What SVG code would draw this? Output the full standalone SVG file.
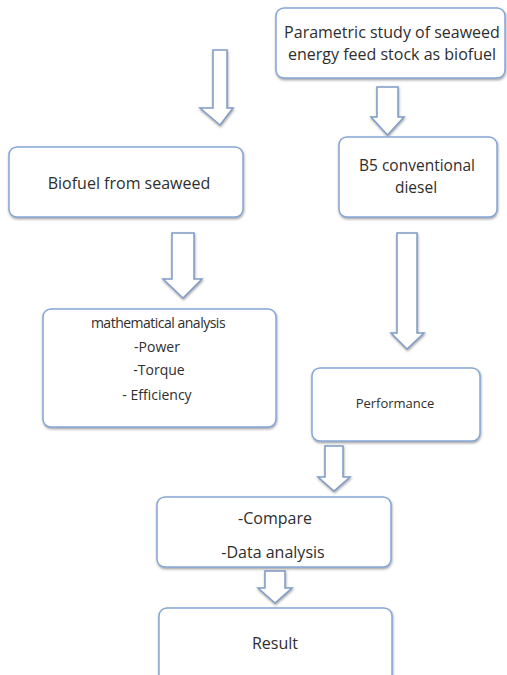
<svg xmlns="http://www.w3.org/2000/svg" width="507" height="675" viewBox="0 0 507 675">
<defs>
<filter id="sh" x="-10%" y="-10%" width="120%" height="130%">
<feDropShadow dx="0.5" dy="1.5" stdDeviation="1" flood-color="#555" flood-opacity="0.55"/>
</filter>
</defs>
<style>
.box{fill:#fff;stroke:#86a7d6;stroke-width:1.5;filter:url(#sh)}
.arr{fill:#fff;stroke:#7f9cc8;stroke-width:1.5;stroke-linejoin:miter;filter:url(#sh)}
text{font-family:"Open Sans","Liberation Sans",sans-serif;fill:#2e2e2e;text-anchor:middle}
.t16{font-size:16px}
.t15{font-size:15.5px}
.t14{font-size:14px}
.t13{font-size:13px}
</style>
<rect width="507" height="675" fill="#fff"/>
<g id="connectors">
<path class="arr" d="M213,50 H227 V108 H233 L220,125 L200,108 H213 Z"/>
<path class="arr" d="M377,87 H398 V117 H404 L387.5,135 L371,117 H377 Z"/>
<path class="arr" d="M172,233 H194 V279 H202 L183,298 L163,279 H172 Z"/>
<path class="arr" d="M397,233 H417 V333 H424 L407,349 L391,333 H397 Z"/>
<path class="arr" d="M325,446 H343 V477 H350 L334,491 L318,477 H325 Z"/>
<path class="arr" d="M265,571 H285 V588 H292 L275,603 L258,588 H265 Z"/>
</g>
<g id="n-parametric">
<rect class="box" x="276" y="8" width="229" height="70" rx="8"/>
<text class="t16" x="392" y="38">Parametric study of seaweed</text>
<text class="t16" x="392" y="60">energy feed stock as biofuel</text>
</g>
<g id="n-b5">
<rect class="box" x="339" y="137" width="158" height="80" rx="8"/>
<text class="t15" x="417" y="171">B5 conventional</text>
<text class="t15" x="416" y="193">diesel</text>
</g>
<g id="n-biofuel">
<rect class="box" x="9" y="147" width="234" height="70" rx="8"/>
<text class="t16" x="129" y="189">Biofuel from seaweed</text>
</g>
<g id="n-math">
<rect class="box" x="43" y="309" width="233" height="118" rx="8"/>
<text class="t14" x="158" y="328" letter-spacing="-0.5">mathematical analysis</text>
<text class="t14" x="157" y="352">-Power</text>
<text class="t14" x="159" y="375">-Torque</text>
<text class="t14" x="157" y="400">- Efficiency</text>
</g>
<g id="n-performance">
<rect class="box" x="312" y="368" width="168" height="73" rx="8"/>
<text class="t13" x="395" y="408">Performance</text>
</g>
<g id="n-compare">
<rect class="box" x="157" y="497" width="234" height="70" rx="8"/>
<text class="t16" x="275" y="524">-Compare</text>
<text class="t16" x="273" y="558">-Data analysis</text>
</g>
<g id="n-result">
<rect class="box" x="159" y="608" width="233" height="80" rx="8"/>
<text class="t16" x="275" y="649">Result</text>
</g>
</svg>
